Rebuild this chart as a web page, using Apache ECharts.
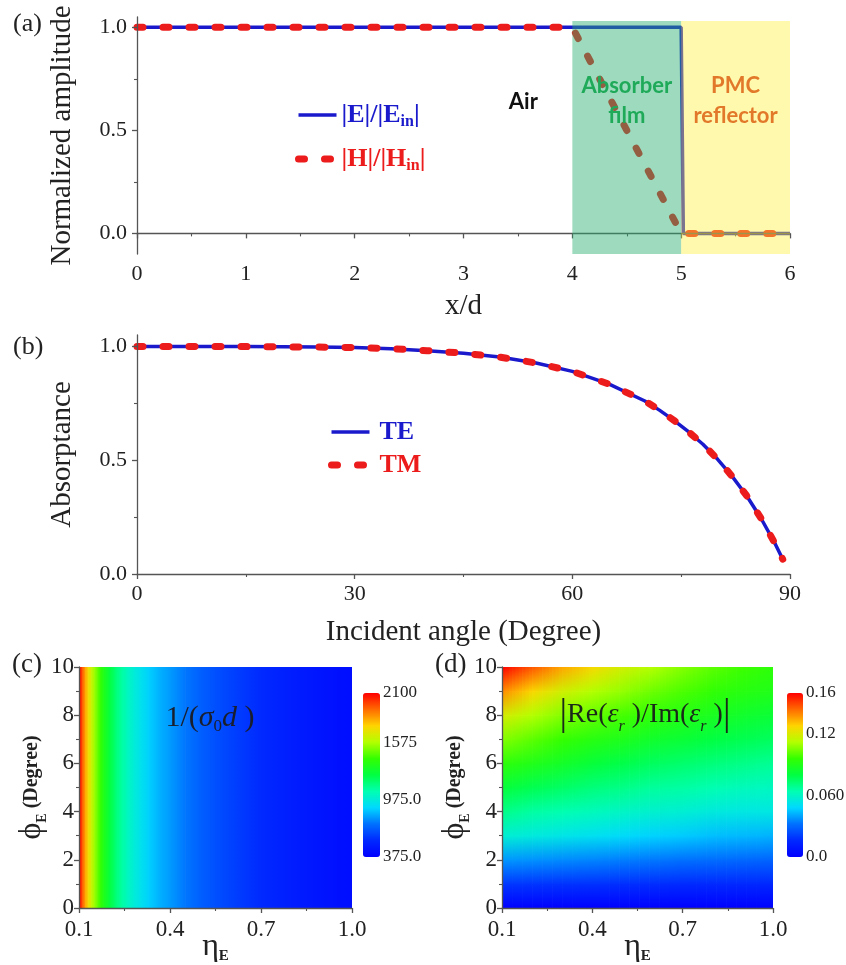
<!DOCTYPE html>
<html><head><meta charset="utf-8">
<script src="https://cdn.jsdelivr.net/npm/echarts@6/dist/echarts.min.js"></script>
<style>html,body{margin:0;padding:0;background:#fff}#c{width:846px;height:965px}</style>
</head><body><div id="c"></div>
<script>
// ---------- (a) normalized field amplitude ----------
const aX_E = [0, 5.0, 5.02, 6];
const aE   = [1, 1, 0, 0];
const aX_H = [0, 4, 5, 6];
const aH   = [1, 1, 0, 0];
const aRegionNames = ['Absorber\nfilm', 'PMC\nreflector'];
const aRegionFrom  = [4, 5];
const aRegionTo    = [5, 6];
const aXTickLabels = ['0', '1', '2', '3', '4', '5', '6'];
const aYTickValues = [0, 0.5, 1.0];
const aYTickLabels = ['0.0', '0.5', '1.0'];
const aYMinorValues = [0.25, 0.75];

// ---------- (b) absorptance vs incident angle ----------
const bAngle = [0, 5, 10, 15, 20, 25, 30, 35, 40, 45, 50, 55, 60, 65, 70, 72, 74, 76, 78, 80, 82, 84, 86, 88, 89];
const bTE    = [1.0, 1.0, 0.999, 0.999, 0.998, 0.997, 0.995, 0.99, 0.981, 0.97, 0.953, 0.927, 0.89, 0.835, 0.76, 0.72, 0.675, 0.625, 0.57, 0.505, 0.43, 0.345, 0.245, 0.13, 0.065];
const bTM    = [1.0, 1.0, 0.999, 0.999, 0.998, 0.997, 0.995, 0.99, 0.981, 0.97, 0.953, 0.927, 0.89, 0.835, 0.76, 0.72, 0.675, 0.625, 0.57, 0.505, 0.43, 0.345, 0.245, 0.13, 0.065];
const bXTickLabels = ['0', '30', '60', '90'];

// ---------- (c) 1/(sigma0 d) vs eta_E (independent of phi_E) ----------
const cEta = [0.10, 0.11, 0.12, 0.13, 0.14, 0.15, 0.16, 0.17, 0.18, 0.20, 0.22, 0.24, 0.26, 0.28, 0.30, 0.33, 0.36, 0.40, 0.45, 0.50, 0.55, 0.60, 0.70, 0.80, 0.90, 1.00];
const cVal = [2100, 1960, 1830, 1720, 1630, 1550, 1480, 1410, 1350, 1250, 1160, 1090, 1030, 980, 940, 880, 835, 790, 730, 680, 640, 610, 550, 500, 460, 430];
const cBarTicks  = [375, 975, 1575, 2100];
const cBarLabels = ['375.0', '975.0', '1575', '2100'];

// ---------- (d) |Re(eps_r)/Im(eps_r)| on (eta_E, phi_E) grid ----------
const dEta = [0.1, 0.2, 0.3, 0.4, 0.5, 0.6, 0.7, 0.8, 0.9, 1.0];
const dPhi = [0, 1, 2, 3, 4, 5, 6, 7, 8, 9, 10];
const dVal = [
  [0, 0, 0, 0, 0, 0, 0, 0, 0, 0],
  [0.019, 0.0186, 0.0181, 0.0177, 0.0172, 0.0168, 0.0163, 0.0159, 0.0154, 0.015],
  [0.038, 0.037, 0.036, 0.035, 0.034, 0.033, 0.032, 0.031, 0.030, 0.029],
  [0.057, 0.055, 0.053, 0.051, 0.049, 0.047, 0.046, 0.044, 0.043, 0.042],
  [0.070, 0.066, 0.064, 0.062, 0.060, 0.058, 0.057, 0.055, 0.054, 0.054],
  [0.082, 0.078, 0.075, 0.072, 0.070, 0.067, 0.066, 0.064, 0.062, 0.061],
  [0.094, 0.090, 0.086, 0.082, 0.079, 0.076, 0.074, 0.072, 0.070, 0.068],
  [0.106, 0.101, 0.096, 0.092, 0.089, 0.085, 0.083, 0.080, 0.078, 0.076],
  [0.119, 0.112, 0.106, 0.102, 0.098, 0.094, 0.091, 0.088, 0.085, 0.083],
  [0.139, 0.127, 0.118, 0.112, 0.108, 0.103, 0.099, 0.095, 0.092, 0.090],
  [0.160, 0.147, 0.135, 0.126, 0.118, 0.112, 0.106, 0.101, 0.097, 0.094]
];
const dBarTicks  = [0, 0.06, 0.12, 0.16];
const dBarLabels = ['0.0', '0.060', '0.12', '0.16'];
const mapXTickLabels = ['0.1', '0.4', '0.7', '1.0'];

// ---------- styles ----------
const SERIF = '"Liberation Serif","Times New Roman",serif';
const BLUE = '#1a1acc', RED = '#ec1c1c', AX = '#555', TXT = '#222';
const RAINBOW = ['#0000ff', '#0028ff', '#0070ff', '#00d8ff', '#00ffb1', '#00ff42', '#33ff00', '#b3ff00', '#ffd400', '#ff6a00', '#ff0000'];

function lookup(vals, labels) {
  return function (v) {
    for (let i = 0; i < vals.length; i++) if (Math.abs(v - vals[i]) < 1e-9) return labels[i];
    return '';
  };
}
function baseAxis(extra) {
  return Object.assign({
    type: 'value',
    axisLine: { show: true, lineStyle: { color: AX, width: 1.3 } },
    axisTick: { show: true, length: 5, lineStyle: { color: AX, width: 1.3 } },
    minorTick: { show: false },
    splitLine: { show: false },
    axisLabel: { fontFamily: SERIF, fontSize: 22, color: TXT, margin: 9 },
    nameLocation: 'middle',
    nameMoveOverlap: false,
    nameTextStyle: { fontFamily: SERIF, fontSize: 29, color: TXT },
    z: 5
  }, extra);
}
const minor = { show: true, splitNumber: 2, length: 3, lineStyle: { color: AX, width: 1.1 } };
const hiddenAxis = (gi) => ({ type: 'value', gridIndex: gi, show: false, min: 0, max: 1 });
const mapXName = { color: TXT, rich: { e: { fontFamily: SERIF, fontSize: 32, lineHeight: 34 }, s: { fontFamily: SERIF, fontSize: 15, fontWeight: 'bold', lineHeight: 22, verticalAlign: 'bottom' } } };
const mapYName = { color: TXT, rich: { p: { fontFamily: SERIF, fontSize: 32, lineHeight: 34 }, s: { fontFamily: SERIF, fontSize: 14, fontWeight: 'bold', lineHeight: 22, verticalAlign: 'bottom' }, d: { fontFamily: SERIF, fontSize: 20, fontWeight: 'bold', lineHeight: 34 } } };
const legendHideSymbol = { color: 'rgba(0,0,0,0)', borderWidth: 0, opacity: 0 };

const dData = [];
for (let j = 0; j < dPhi.length; j++) for (let i = 0; i < dEta.length; i++) dData.push([dEta[i], dPhi[j], dVal[j][i]]);
const nx = dEta.length;

const option = {
  animation: false,
  backgroundColor: '#fff',
  grid: [
    { left: 137, top: 17, width: 653, height: 237, outerBoundsMode: 'none' },
    { left: 137, top: 335, width: 653, height: 239, outerBoundsMode: 'none' },
    { left: 79, top: 667, width: 273, height: 241, outerBoundsMode: 'none' },
    { left: 502, top: 667, width: 271, height: 241, outerBoundsMode: 'none' },
    { left: 363, top: 693, width: 17, height: 164, outerBoundsMode: 'none' },
    { left: 787, top: 693, width: 16, height: 164, outerBoundsMode: 'none' }
  ],
  xAxis: [
    baseAxis({ gridIndex: 0, min: 0, max: 6, interval: 1, minorTick: minor, name: 'x/d', nameGap: 38,
      axisLabel: { fontFamily: SERIF, fontSize: 22, color: TXT, margin: 9, formatter: (v) => aXTickLabels[Math.round(v)] } }),
    baseAxis({ gridIndex: 1, min: 0, max: 90, interval: 30, minorTick: minor, name: 'Incident angle (Degree)', nameGap: 44,
      axisLabel: { fontFamily: SERIF, fontSize: 22, color: TXT, margin: 9, formatter: (v) => bXTickLabels[Math.round(v / 30)] } }),
    baseAxis({ gridIndex: 2, min: 0.1, max: 1.0, interval: 0.3, minorTick: minor, name: '{e|η}{s|E}', nameGap: 22,
      axisLabel: { fontFamily: SERIF, fontSize: 23, color: TXT, margin: 10, formatter: lookup([0.1, 0.4, 0.7, 1.0], mapXTickLabels) },
      nameTextStyle: mapXName }),
    baseAxis({ gridIndex: 3, min: 0.1, max: 1.0, interval: 0.3, minorTick: minor, name: '{e|η}{s|E}', nameGap: 22,
      axisLabel: { fontFamily: SERIF, fontSize: 23, color: TXT, margin: 10, formatter: lookup([0.1, 0.4, 0.7, 1.0], mapXTickLabels) },
      nameTextStyle: mapXName }),
    hiddenAxis(4),
    hiddenAxis(5)
  ],
  yAxis: [
    baseAxis({ gridIndex: 0, min: -0.1, max: 1.05, position: 'left', name: 'Normalized amplitude', nameGap: 60,
      axisTick: { show: true, length: 5, customValues: aYTickValues, lineStyle: { color: AX, width: 1.3 } },
      axisLabel: { fontFamily: SERIF, fontSize: 22, color: TXT, margin: 10, customValues: aYTickValues, formatter: lookup(aYTickValues, aYTickLabels) } }),
    baseAxis({ gridIndex: 0, min: -0.1, max: 1.05, position: 'left', axisLine: { show: false },
      axisTick: { show: true, length: 3, customValues: aYMinorValues, lineStyle: { color: AX, width: 1.1 } }, axisLabel: { show: false } }),
    baseAxis({ gridIndex: 1, min: 0, max: 1.05, position: 'left', name: 'Absorptance', nameGap: 60,
      axisTick: { show: true, length: 5, customValues: aYTickValues, lineStyle: { color: AX, width: 1.3 } },
      axisLabel: { fontFamily: SERIF, fontSize: 22, color: TXT, margin: 10, customValues: aYTickValues, formatter: lookup(aYTickValues, aYTickLabels) } }),
    baseAxis({ gridIndex: 1, min: 0, max: 1.05, position: 'left', axisLine: { show: false },
      axisTick: { show: true, length: 3, customValues: aYMinorValues, lineStyle: { color: AX, width: 1.1 } }, axisLabel: { show: false } }),
    baseAxis({ gridIndex: 2, min: 0, max: 10, interval: 2, position: 'left', minorTick: minor, name: '{p|ϕ}{s|E}{d| (Degree)}', nameGap: 30,
      axisLabel: { fontFamily: SERIF, fontSize: 23, color: TXT, margin: 5 }, nameTextStyle: mapYName }),
    baseAxis({ gridIndex: 3, min: 0, max: 10, interval: 2, position: 'left', minorTick: minor, name: '{p|ϕ}{s|E}{d| (Degree)}', nameGap: 30,
      axisLabel: { fontFamily: SERIF, fontSize: 23, color: TXT, margin: 5 }, nameTextStyle: mapYName }),
    { type: 'value', gridIndex: 4, position: 'right', min: 375, max: 2100, interval: 600,
      axisLine: { show: false }, axisTick: { show: false }, splitLine: { show: false },
      axisLabel: { fontFamily: SERIF, fontSize: 17, color: TXT, margin: 3, formatter: lookup(cBarTicks, cBarLabels) } },
    { type: 'value', gridIndex: 5, position: 'right', min: 0, max: 0.16, interval: 0.06,
      axisLine: { show: false }, axisTick: { show: false }, splitLine: { show: false },
      axisLabel: { fontFamily: SERIF, fontSize: 17, color: TXT, margin: 3, formatter: lookup(dBarTicks, dBarLabels) } }
  ],
  visualMap: [
    { type: 'continuous', seriesIndex: 5, dimension: 1, min: 375, max: 2100, inRange: { color: RAINBOW },
      left: 363, top: 693, itemWidth: 17, itemHeight: 164, padding: 0, calculable: false, hoverLink: false, text: null, showLabel: false },
    { type: 'continuous', seriesIndex: 6, dimension: 2, min: 0, max: 0.16, inRange: { color: RAINBOW },
      left: 787, top: 693, itemWidth: 16, itemHeight: 164, padding: 0, calculable: false, hoverLink: false, text: null, showLabel: false }
  ],
  legend: [
    { left: 295, top: 102, padding: 0, orient: 'vertical', itemWidth: 38, itemHeight: 14, itemGap: 16, selectedMode: false,
      itemStyle: legendHideSymbol, lineStyle: { width: 'inherit' },
      data: [{ name: 'E', textStyle: { color: BLUE } }, { name: 'H', textStyle: { color: RED } }],
      formatter: (n) => n === 'E' ? '{m||E|/|E}{s|in}{m||}' : '{m||H|/|H}{s|in}{m||}',
      textStyle: { rich: { m: { fontFamily: SERIF, fontSize: 26, fontWeight: 'bold', lineHeight: 30 },
                           s: { fontFamily: SERIF, fontSize: 16, fontWeight: 'bold', lineHeight: 12, verticalAlign: 'bottom' } } } },
    { left: 328, top: 417, padding: 0, orient: 'vertical', itemWidth: 38, itemHeight: 14, itemGap: 3, selectedMode: false,
      itemStyle: legendHideSymbol, lineStyle: { width: 'inherit' },
      data: [{ name: 'TE', textStyle: { color: BLUE } }, { name: 'TM', textStyle: { color: RED } }],
      textStyle: { fontFamily: SERIF, fontSize: 26, fontWeight: 'bold', lineHeight: 30, padding: [0, 0, 0, 5] } }
  ],
  series: [
    { name: 'E', type: 'line', xAxisIndex: 0, yAxisIndex: 0, z: 2, symbol: 'none', color: BLUE,
      lineStyle: { color: BLUE, width: 3.5 }, data: aX_E.map((x, i) => [x, aE[i]]) },
    { name: 'H', type: 'line', xAxisIndex: 0, yAxisIndex: 0, z: 3, symbol: 'none', color: RED,
      lineStyle: { color: RED, width: 7, type: [6, 20], cap: 'round' }, data: aX_H.map((x, i) => [x, aH[i]]) },
    { name: 'regions', type: 'line', xAxisIndex: 0, yAxisIndex: 0, z: 4, symbol: 'none', silent: true, data: [],
      markArea: { silent: true, z: 10,
        label: { show: true, position: 'insideTop', distance: 50, fontFamily: 'Lato', fontWeight: 'bold', fontSize: 22, lineHeight: 30 },
        data: [
          [{ xAxis: aRegionFrom[0], yAxis: -0.1, name: aRegionNames[0], itemStyle: { color: 'rgba(40,175,110,0.45)' }, label: { color: '#1faa5a' } }, { xAxis: aRegionTo[0], yAxis: 1.03 }],
          [{ xAxis: aRegionFrom[1], yAxis: -0.1, name: aRegionNames[1], itemStyle: { color: 'rgba(255,240,60,0.42)' }, label: { color: '#e2792a' } }, { xAxis: aRegionTo[1], yAxis: 1.03 }]
        ] },
      markPoint: { symbol: 'circle', symbolSize: 1, itemStyle: { color: 'rgba(0,0,0,0)' }, silent: true,
        label: { show: true, position: 'inside', formatter: '{b}', fontFamily: 'Lato', fontWeight: 'bold', fontSize: 22, color: '#111' },
        data: [{ name: 'Air', coord: [3.55, 0.637] }] } },
    { name: 'TE', type: 'line', xAxisIndex: 1, yAxisIndex: 2, z: 2, symbol: 'none', color: BLUE,
      lineStyle: { color: BLUE, width: 3.5 }, data: bAngle.map((x, i) => [x, bTE[i]]) },
    { name: 'TM', type: 'line', xAxisIndex: 1, yAxisIndex: 2, z: 3, symbol: 'none', color: RED,
      lineStyle: { color: RED, width: 7, type: [6, 20], cap: 'round' }, data: bAngle.map((x, i) => [x, bTM[i]]) },
    { name: 'cmap', type: 'custom', xAxisIndex: 2, yAxisIndex: 4, z: 1, clip: true, silent: true,
      data: cEta.map((x, i) => [x, cVal[i]]),
      renderItem: function (params, api) {
        const i = params.dataIndex;
        if (i >= cEta.length - 1) return null;
        const p0 = api.coord([api.value(0), 10]);
        const p1 = api.coord([api.value(0, i + 1), 0]);
        const c0 = api.visual('color');
        const c1 = api.visual('color', i + 1) || c0;
        return { type: 'rect', shape: { x: p0[0], y: p0[1], width: p1[0] - p0[0] + 0.7, height: p1[1] - p0[1] },
          style: { fill: { type: 'linear', x: 0, y: 0, x2: 1, y2: 0, colorStops: [{ offset: 0, color: c0 }, { offset: 1, color: c1 }] } } };
      } },
    { name: 'dmap', type: 'custom', xAxisIndex: 3, yAxisIndex: 5, z: 1, clip: true, silent: true,
      data: dData,
      renderItem: function (params, api) {
        const idx = params.dataIndex;
        const i = idx % nx, j = Math.floor(idx / nx);
        if (i >= nx - 1 || j >= dPhi.length - 1) return null;
        const pA = api.coord([api.value(0), api.value(1)]);
        const pB = api.coord([api.value(0, idx + nx + 1), api.value(1, idx + nx + 1)]);
        const c00 = api.visual('color'), c10 = api.visual('color', idx + 1);
        const c01 = api.visual('color', idx + nx), c11 = api.visual('color', idx + nx + 1);
        const K = 9, w = (pB[0] - pA[0]) / K, children = [];
        for (let k = 0; k < K; k++) {
          const t = (k + 0.5) / K;
          const bot = echarts.color.lerp(t, [c00, c10]);
          const top = echarts.color.lerp(t, [c01, c11]);
          children.push({ type: 'rect', shape: { x: pA[0] + k * w, y: pB[1], width: w + 0.7, height: pA[1] - pB[1] + 0.7 },
            style: { fill: { type: 'linear', x: 0, y: 0, x2: 0, y2: 1, colorStops: [{ offset: 0, color: top }, { offset: 1, color: bot }] } } });
        }
        return { type: 'group', children: children };
      } }
  ],
  graphic: [
    { type: 'text', x: 13, y: 24, style: { text: '(a)', font: '26px ' + SERIF, fill: TXT, verticalAlign: 'middle' } },
    { type: 'text', x: 13, y: 347, style: { text: '(b)', font: '26px ' + SERIF, fill: TXT, verticalAlign: 'middle' } },
    { type: 'text', x: 12, y: 665, style: { text: '(c)', font: '27px ' + SERIF, fill: TXT, verticalAlign: 'middle' } },
    { type: 'text', x: 435, y: 665, style: { text: '(d)', font: '27px ' + SERIF, fill: TXT, verticalAlign: 'middle' } },
    { type: 'text', x: 210, y: 718, z: 10, style: { text: '{n|1/(}{i|σ}{s|0}{i|d}{n| )}', align: 'center', verticalAlign: 'middle', fill: '#1a1f2e',
      rich: { n: { fontFamily: SERIF, fontSize: 30, lineHeight: 34 }, i: { fontFamily: SERIF, fontStyle: 'italic', fontSize: 30, lineHeight: 34 },
              s: { fontFamily: SERIF, fontSize: 17, lineHeight: 22, verticalAlign: 'bottom' } } } },
    { type: 'text', x: 645, y: 715, z: 10, style: { text: '{b||}{n|Re(}{i|ε}{s|r}{n| )/Im(}{i|ε}{s|r}{n| )}{b||}', align: 'center', verticalAlign: 'middle', fill: '#1a2a1a',
      rich: { n: { fontFamily: SERIF, fontSize: 28, lineHeight: 34 }, i: { fontFamily: SERIF, fontStyle: 'italic', fontSize: 28, lineHeight: 34 },
              s: { fontFamily: SERIF, fontStyle: 'italic', fontSize: 16, lineHeight: 22, verticalAlign: 'bottom' }, b: { fontFamily: SERIF, fontSize: 38, lineHeight: 40 } } } }
  ]
};

const chart = echarts.init(document.getElementById('c'), null, { renderer: 'canvas', width: 846, height: 965 });
chart.setOption(option);
</script>
</body></html>
